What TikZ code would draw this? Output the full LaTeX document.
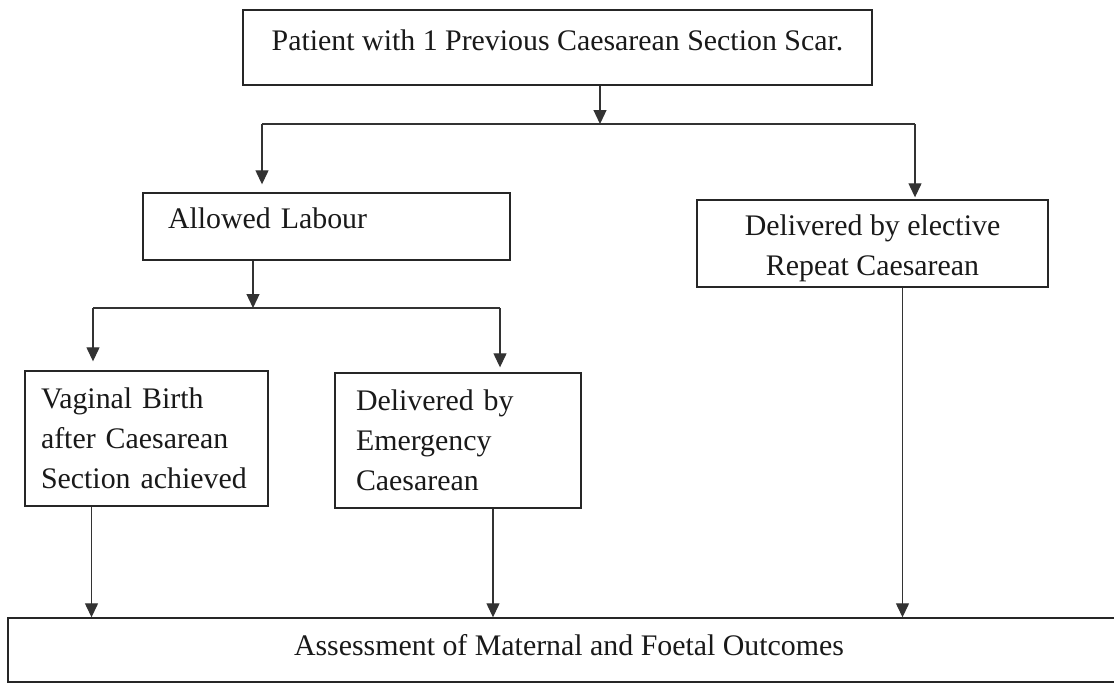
\documentclass[tikz,border=0pt]{standalone}
\usepackage{fontspec}
\setmainfont{Liberation Serif}
\usetikzlibrary{arrows.meta}

\begin{document}
\begin{tikzpicture}[x=0.02cm, y=-0.02cm,
    box/.style={draw=black!85, line width=0.8pt, rectangle, inner sep=0pt,
        text=black!90, font=\fontsize{17}{22.8}\selectfont},
    flow/.style={draw=black!80, line width=0.7pt, -{Triangle[width=0.26cm,length=0.28cm]}},
    link/.style={draw=black!80, line width=0.7pt}]
			%%%%% START %%%%%
			\useasboundingbox (0,0) rectangle (1114,683);
			\clip (0,0) rectangle (1114,683);
			
			\node[box, minimum width=12.58cm, minimum height=1.5cm, text depth=0.3cm] (patient) at (557.5,47.5) {Patient with 1 Previous Caesarean Section Scar.};
			
			\node[box, minimum width=7.34cm, minimum height=1.34cm, align=left, inner xsep=0.5cm, text width=6.34cm, text depth=0.32cm] (labour) at (326.5,226.5) {Allowed Labour};
			\node[box, minimum width=7.02cm, minimum height=1.74cm] (elective) at (872.5,243.5) {};
			\node[box, draw=none, align=center, yshift=-0.1cm] (electext) at (elective) {Delivered by elective\\Repeat Caesarean};
			
			\node[box, minimum width=4.86cm, minimum height=2.7cm, align=left, inner xsep=0.32cm, text width=4.22cm] (vaginal) at (146.5,438.5) {Vaginal Birth\\after Caesarean\\Section achieved};
			\node[box, minimum width=4.92cm, minimum height=2.7cm, align=left, inner xsep=0.42cm, text width=4.08cm] (emergency) at (458,440.5) {Delivered by\\Emergency\\Caesarean};
			
			\node[box, minimum width=22.44cm, minimum height=1.28cm, text depth=0.2cm] (outcome) at (569,650) {Assessment of Maternal and Foetal Outcomes};
			
			% first split
			\coordinate (split) at (600,124);
			\coordinate (splitL) at (262,124);
			\coordinate (splitR) at (915,124);
			\draw[flow] (split |- patient.south) -- (split);
			\draw[link] (splitL) -- (splitR);
			\draw[flow, shorten >=0.16cm] (splitL) -- (splitL |- labour.north);
			\draw[flow, shorten >=0.04cm] (splitR) -- (splitR |- elective.north);
			
			% second split
			\coordinate (fork) at (253,308);
			\coordinate (forkL) at (93,308);
			\coordinate (forkR) at (500,308);
			\draw[flow] (fork |- labour.south) -- (fork);
			\draw[link] (forkL) -- (forkR);
			\draw[flow, shorten >=0.18cm] (forkL) -- (forkL |- vaginal.north);
			\draw[flow, shorten >=0.1cm] (forkR) -- (forkR |- emergency.north);
			
			% into outcomes
			\draw[flow] ([xshift=-1.1cm]vaginal.south) -- ([xshift=-1.1cm]vaginal.south |- outcome.north);
			\draw[flow] ([xshift=0.7cm]emergency.south) -- ([xshift=0.7cm]emergency.south |- outcome.north);
			\draw[flow] ([xshift=0.6cm]elective.south) -- ([xshift=0.6cm]elective.south |- outcome.north);
			
			%%%%% END %%%%%
\end{tikzpicture}
\end{document}
